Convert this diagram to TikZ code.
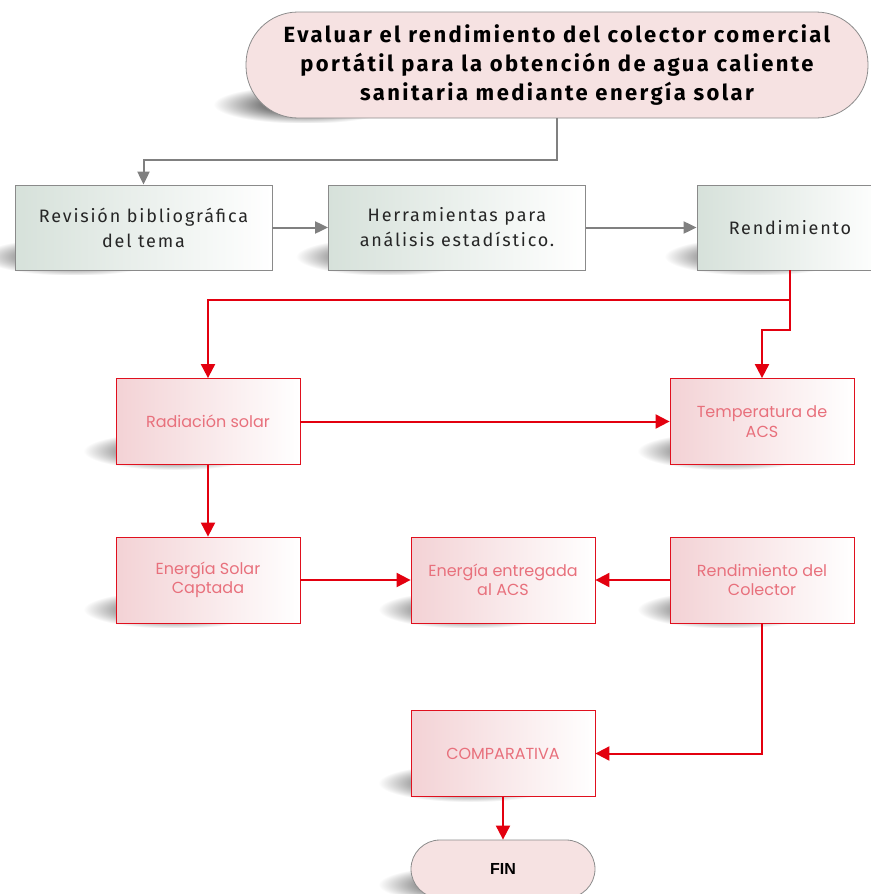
\documentclass[tikz,border=0pt]{standalone}
\usepackage{fontspec}
\setmainfont{Fira Sans}
\newfontfamily\headfont[LetterSpace=11]{Fira Sans}
\newfontfamily\stepfont[LetterSpace=10]{Fira Sans}
\newfontfamily\lightfont{Poppins}
\newfontfamily\endfont{Liberation Sans}
\usetikzlibrary{arrows.meta,calc,backgrounds,fadings}

\definecolor{termfill}{HTML}{F6E2E2}
\definecolor{termline}{HTML}{8C8C8C}
\definecolor{stepfill}{HTML}{D6E1DA}
\definecolor{stepline}{HTML}{8A8A8A}
\definecolor{flowgray}{HTML}{808080}
\definecolor{redline}{HTML}{E0101E}
\definecolor{redfill}{HTML}{F3D2D5}
\definecolor{redtext}{HTML}{E8707C}
\definecolor{flowred}{HTML}{E3000F}

% soft elliptical fading used for the shadows
\pgfdeclareradialshading{shadeblob}{\pgfpoint{0bp}{0bp}}{%
  color(0bp)=(pgftransparent!40); color(12bp)=(pgftransparent!50);
  color(25bp)=(pgftransparent!100); color(50bp)=(pgftransparent!100)}
\pgfdeclarefading{shadeblobfade}{\pgfuseshading{shadeblob}}

% soft shadow under the lower left part of a node
\newcommand\dropshade[1]{%
  \fill[black, path fading=shadeblobfade]
    ($(#1.south west)+(-32,-33)$) rectangle ($(#1.south west)+(150,5)$);}

\begin{document}
\begin{tikzpicture}[x=1pt,y=-1pt,
  terminal/.style={draw=termline, line width=0.8pt, fill=termfill, align=center, inner sep=0pt},
  stepbox/.style={draw=stepline, line width=0.8pt, left color=stepfill, right color=white,
    minimum width=257pt, minimum height=85pt, align=center, inner sep=0pt, text=black!85,
    font=\stepfont\fontsize{18}{25}\selectfont},
  redbox/.style={draw=redline, line width=0.8pt, left color=redfill, right color=white,
    minimum width=184pt, minimum height=86pt, align=center, inner sep=0pt, text=redtext,
    font=\lightfont\fontsize{16}{19.5}\selectfont},
  grayflow/.style={draw=flowgray, line width=2pt, -{Triangle[length=13pt,width=12pt]}},
  redflow/.style={draw=flowred, line width=2pt, -{Triangle[length=14pt,width=14pt]}},
]
\useasboundingbox (0,0) rectangle (870,894);

% objective
\node[terminal, minimum width=622pt, minimum height=106pt, rounded corners=52pt,
  font=\headfont\bfseries\fontsize{22}{29}\selectfont] (goal) at (557,65)
  {Evaluar el rendimiento del colector comercial\\portátil para la obtención de agua caliente\\sanitaria mediante energía solar};

% first stage
\node[stepbox] (rev) at (143.5,227.5) {Revisión bibliográfica\\del tema};
\node[stepbox] (tools) at (457,227.5) {Herramientas para\\análisis estadístico.};
\node[stepbox, minimum width=186pt] (rend) at (790,227.5) {Rendimiento};

% performance analysis
\node[redbox] (rad) at (208,421.5) {Radiación solar};
\node[redbox] (temp) at (762,421.5) {Temperatura de\\ACS};
\node[redbox] (cap) at (208,580) {Energía Solar\\Captada};
\node[redbox] (ent) at (503,580) {Energía entregada\\al ACS};
\node[redbox] (col) at (762,580) {Rendimiento del\\Colector};
\node[redbox] (comp) at (503,753.5) {COMPARATIVA};

% end terminal
\node[terminal, minimum width=184pt, minimum height=58pt, rounded corners=29pt,
  font=\endfont\bfseries\fontsize{16}{18}\selectfont] (fin) at (503,869) {FIN};

% shadows
\begin{scope}[on background layer]
  \foreach \n in {goal,rev,tools,rend,rad,temp,cap,ent,col,comp,fin}{\dropshade{\n}}
\end{scope}

% connectors
\draw[grayflow] (goal.south) -- ++(0,42) -| (rev.north);
\draw[grayflow] (rev) -- (tools);
\draw[grayflow] (tools) -- (rend);
\draw[redflow] (rend.south) -- ++(0,60) -| (temp.north);
\draw[redflow] ($(rend.south)+(0,30)$) -| (rad.north);
\draw[redflow] (rad) -- (temp);
\draw[redflow] (rad) -- (cap);
\draw[redflow] (cap) -- (ent);
\draw[redflow] (col) -- (ent);
\draw[redflow] (col.south) |- (comp.east);
\draw[redflow] (comp) -- (fin);
\end{tikzpicture}
\end{document}
